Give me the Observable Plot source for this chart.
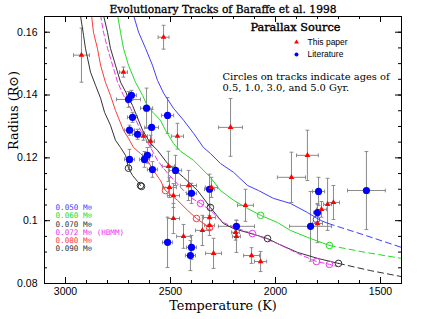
<!DOCTYPE html>
<html><head><meta charset="utf-8">
<script src="https://cdn.jsdelivr.net/npm/d3@7"></script>
<script src="https://cdn.jsdelivr.net/npm/@observablehq/plot@0.6"></script>
<style>body{margin:0;background:#fff}</style>
</head><body><div id="chart"></div>
<script>
// Evolutionary tracks (Teff K, Radius Rsun)
const track090 = [[2929,0.1654],[2914,0.1590],[2905,0.1549],[2881,0.1473],[2857,0.1431],[2833,0.1390],[2814,0.1345],[2786,0.1304],[2762,0.1256],[2738,0.1233],[2714,0.1208],[2700,0.1167],[2681,0.1144],[2657,0.1125],[2643,0.1112]];
const track080 = [[2876,0.1654],[2867,0.1600],[2848,0.1549],[2833,0.1495],[2810,0.1441],[2786,0.1399],[2762,0.1351],[2724,0.1288],[2700,0.1262],[2676,0.1233],[2643,0.1214],[2610,0.1192],[2581,0.1160],[2548,0.1128],[2524,0.1096],[2467,0.1065],[2419,0.1033],[2376,0.1007],[2343,0.0991],[2314,0.0978]];
const track072 = [[2833,0.1654],[2819,0.1600],[2800,0.1549],[2776,0.1495],[2752,0.1441],[2724,0.1399],[2690,0.1358],[2643,0.1288],[2595,0.1233],[2562,0.1192],[2514,0.1151],[2452,0.1106],[2405,0.1074],[2357,0.1055],[2310,0.1033],[2248,0.0994],[2181,0.0975],[2110,0.0959],[1990,0.0927],[1895,0.0896],[1805,0.0870],[1743,0.0861],[1705,0.0854]];
const track070 = [[2819,0.1654],[2800,0.1600],[2786,0.1549],[2762,0.1495],[2738,0.1441],[2705,0.1399],[2681,0.1367],[2633,0.1288],[2595,0.1246],[2562,0.1224],[2514,0.1182],[2438,0.1138],[2371,0.1096],[2310,0.1042],[2248,0.0991],[2200,0.0975],[2086,0.0953],[2038,0.0943],[1990,0.0927],[1895,0.0899],[1800,0.0880],[1700,0.0864]];
const track070ext = [[1700,0.0864],[1548,0.0841],[1400,0.0822]];
const track060 = [[2752,0.1654],[2738,0.1600],[2724,0.1549],[2700,0.1495],[2667,0.1441],[2633,0.1399],[2610,0.1365],[2580,0.1342],[2548,0.1320],[2524,0.1288],[2486,0.1246],[2452,0.1221],[2390,0.1192],[2310,0.1138],[2262,0.1096],[2200,0.1065],[2133,0.1039],[2071,0.1017],[1990,0.0994],[1929,0.0969],[1848,0.0947],[1743,0.0921]];
const track060ext = [[1743,0.0921],[1571,0.0899],[1400,0.0880]];
const track050 = [[2676,0.1654],[2652,0.1600],[2619,0.1549],[2586,0.1495],[2562,0.1447],[2533,0.1406],[2486,0.1358],[2438,0.1320],[2390,0.1278],[2343,0.1233],[2310,0.1214],[2262,0.1182],[2200,0.1154],[2133,0.1112],[2081,0.1096],[2010,0.1071],[1929,0.1055],[1848,0.1026],[1786,0.1001],[1748,0.0991]];
const track050ext = [[1748,0.0991],[1571,0.0953],[1400,0.0915]];

// Age circles (0.5, 1.0, 3.0, 5.0 Gyr) on each track
const ages090 = [[2700,0.1167],[2643,0.1112],[2638,0.1109]];
const ages080 = [[2524,0.1096],[2376,0.1007],[2314,0.0978]];
const ages072 = [[2357,0.1055],[2110,0.0959],[1805,0.0870],[1743,0.0861]];
const ages070 = [[2310,0.1042],[2038,0.0943],[1700,0.0864]];
const ages060 = [[2071,0.1017],[1743,0.0921]];
const ages050 = [[1805,0.1004]];

// Objects: [Teff, R, Teff error, R error]
const thisPaper = [[2924,0.1527,38,0.0086],[2533,0.1584,26,0.0038],[2724,0.1473,19,0.0016],[2467,0.1269,29,0.0041],[2629,0.1269,19,0.0013],[2595,0.1253,19,0.0019],[2510,0.1173,29,0.0048],[2414,0.1112,38,0.0048],[2505,0.1106,33,0.0032],[2486,0.1080,29,0.0038],[2305,0.1106,29,0.0032],[2486,0.1007,29,0.0048],[2314,0.1010,29,0.0038],[2314,0.0985,24,0.0032],[2348,0.0969,33,0.0048],[2438,0.0950,33,0.0038],[2295,0.0896,38,0.0048],[2214,0.1297,57,0.0092],[2143,0.1049,38,0.0051],[2190,0.0963,19,0.0025],[2186,0.0950,19,0.0051],[2114,0.0889,38,0.0025],[2071,0.0870,29,0.0032],[1848,0.1208,52,0.0080],[1924,0.1138,67,0.0080],[1724,0.1058,29,0.0054],[1752,0.1052,19,0.0083],[1781,0.1036,24,0.0025],[1800,0.0991,24,0.0061]];
const literature = [[2686,0.1399,24,0.0016],[2700,0.1386,57,0.0025],[2614,0.1358,29,0.0064],[2514,0.1335,29,0.0057],[2681,0.1329,24,0.0016],[2695,0.1288,24,0.0016],[2590,0.1297,33,0.0057],[2657,0.1275,24,0.0016],[2695,0.1195,24,0.0032],[2610,0.1208,24,0.0025],[2624,0.1195,24,0.0025],[2586,0.1163,24,0.0025],[2476,0.1160,29,0.0048],[2400,0.1087,24,0.0032],[2314,0.1100,24,0.0048],[2514,0.0931,24,0.0080],[2400,0.0915,24,0.0038],[2405,0.0889,24,0.0048],[2186,0.0982,86,0.0020],[1795,0.1093,29,0.0045],[1567,0.1096,90,0.0124],[1800,0.1026,19,0.0029],[1833,0.0982,100,0.0111]];

const xTickLabels = [3000,2500,2000,1500];
const yTickLabels = [0.08,0.10,0.12,0.14,0.16];
const massLabels = ["0.050 M\u2299","0.060 M\u2299","0.070 M\u2299","0.072 M\u2299 (HBMM)","0.080 M\u2299","0.090 M\u2299"];
const massColors = ["#3f3fff","#22dd22","#333333","#ee33ee","#ff3b3b","#333333"];

const serif = "DejaVu Serif, Liberation Serif, serif";
const sans = "Liberation Sans, Arial, sans-serif";
const W = 427, H = 319, mL = 44, mR = 26, mT = 16, mB = 36;
const fw = W - mL - mR, fh = H - mT - mB;
const xMinor = d3.range(1400, 3101, 100);
const yMinor = d3.range(0.08, 0.1651, 0.005).map(v => +v.toFixed(3));
const errCol = "#8a8a8a";

function errMarks(pts) {
  const capT = 9, capR = 0.0006;
  return [
    Plot.link(pts, {x1: d => d[0] - d[2], x2: d => d[0] + d[2], y1: d => d[1], y2: d => d[1], stroke: errCol, strokeWidth: 1}),
    Plot.link(pts, {x1: d => d[0], x2: d => d[0], y1: d => d[1] - d[3], y2: d => d[1] + d[3], stroke: errCol, strokeWidth: 1}),
    Plot.link(pts, {x1: d => d[0] - capT, x2: d => d[0] + capT, y1: d => d[1] + d[3], y2: d => d[1] + d[3], stroke: errCol}),
    Plot.link(pts, {x1: d => d[0] - capT, x2: d => d[0] + capT, y1: d => d[1] - d[3], y2: d => d[1] - d[3], stroke: errCol}),
    Plot.link(pts, {x1: d => d[0] - d[2], x2: d => d[0] - d[2], y1: d => d[1] - capR, y2: d => d[1] + capR, stroke: errCol}),
    Plot.link(pts, {x1: d => d[0] + d[2], x2: d => d[0] + d[2], y1: d => d[1] - capR, y2: d => d[1] + capR, stroke: errCol})
  ];
}
const line = (data, color, dash) => Plot.line(data, {x: d => d[0], y: d => d[1], stroke: color, strokeWidth: 1, strokeDasharray: dash, clip: true, curve: "linear"});
const ageDots = (data, color) => Plot.dot(data, {x: d => d[0], y: d => d[1], r: 3.3, stroke: color, strokeWidth: 1, fill: "none"});
const label = (t, o) => Plot.text([t], {lineAnchor: "middle", fill: "black", ...o});

const chart = Plot.plot({
  width: W, height: H,
  marginLeft: mL, marginRight: mR, marginTop: mT, marginBottom: mB,
  style: {fontFamily: sans, fontSize: "10.5px", background: "white", color: "black", overflow: "visible"},
  x: {domain: [3100, 1400], ticks: xTickLabels, tickFormat: d => String(d), tickSize: 0, tickPadding: 4, label: null},
  y: {domain: [0.08, 0.165], ticks: yTickLabels, tickFormat: d => String(+d.toFixed(2)), tickSize: 0, tickPadding: 7, label: null},
  marks: [
    ...errMarks(thisPaper),
    ...errMarks(literature),
    line(track050, massColors[0]),
    line(track050ext, massColors[0], "6,4"),
    line(track060, massColors[1]),
    line(track060ext, massColors[1], "6,4"),
    line(track070, massColors[2]),
    line(track070ext, massColors[2], "6,4"),
    line(track072, massColors[3], "5,3"),
    line(track080, massColors[4]),
    line(track090, massColors[5]),
    ageDots(ages050, massColors[0]),
    ageDots(ages060, massColors[1]),
    ageDots(ages070, massColors[2]),
    ageDots(ages072, massColors[3]),
    ageDots(ages080, massColors[4]),
    ageDots(ages090, massColors[5]),
    Plot.dot(literature, {x: d => d[0], y: d => d[1], r: 3.6, fill: "#0000ff", stroke: "none"}),
    Plot.dot(thisPaper, {x: d => d[0], y: d => d[1], r: 2.1, symbol: "triangle", fill: "#ff0000", stroke: "none"}),
    // ticks on all four sides
    Plot.ruleX(xTickLabels, {x: d => d, insetTop: fh - 6, stroke: "black"}),
    Plot.ruleX(xMinor, {x: d => d, insetTop: fh - 3, stroke: "black"}),
    Plot.ruleX(xTickLabels, {x: d => d, insetBottom: fh - 6, stroke: "black"}),
    Plot.ruleX(xMinor, {x: d => d, insetBottom: fh - 3, stroke: "black"}),
    Plot.ruleY(yTickLabels, {y: d => d, insetRight: fw - 6, stroke: "black"}),
    Plot.ruleY(yMinor, {y: d => d, insetRight: fw - 3, stroke: "black"}),
    Plot.ruleY(yTickLabels, {y: d => d, insetLeft: fw - 6, stroke: "black"}),
    Plot.ruleY(yMinor, {y: d => d, insetLeft: fw - 3, stroke: "black"}),
    Plot.frame({stroke: "black", strokeWidth: 1}),
    // titles
    label("Evolutionary Tracks of Baraffe et al. 1998", {frameAnchor: "top", dy: -7, fontFamily: serif, fontSize: 10.7, stroke: "black", strokeWidth: 0.3}),
    label("Temperature (K)", {frameAnchor: "bottom", dy: 22, fontFamily: serif, fontSize: 12.8}),
    label("Radius (R\u2299)", {frameAnchor: "left", dx: -31, rotate: -90, fontFamily: serif, fontSize: 12.8}),
    // legend
    label("Parallax Source", {frameAnchor: "top-right", dx: -61, dy: 11, fontFamily: serif, fontSize: 11.3, stroke: "black", strokeWidth: 0.4}),
    Plot.dot([0], {frameAnchor: "top-right", dx: -105, dy: 25.7, r: 1.8, symbol: "triangle", fill: "#ff0000"}),
    label("This paper", {frameAnchor: "top-right", dx: -94, dy: 25.7, textAnchor: "start", fontSize: 8.5}),
    Plot.dot([0], {frameAnchor: "top-right", dx: -105, dy: 38, r: 2, fill: "#0000ff"}),
    label("Literature", {frameAnchor: "top-right", dx: -94, dy: 38, textAnchor: "start", fontSize: 8.5}),
    label("Circles on tracks indicate ages of", {frameAnchor: "top-left", dx: 178, dy: 60, textAnchor: "start", fontFamily: serif, fontSize: 9.9}),
    label("0.5, 1.0, 3.0, and 5.0 Gyr.", {frameAnchor: "top-left", dx: 178, dy: 71.5, textAnchor: "start", fontFamily: serif, fontSize: 9.9}),
    ...massLabels.map((t, i) => label(t, {frameAnchor: "top-left", dx: 11, dy: 191 + i * 8.3, textAnchor: "start", fontFamily: "DejaVu Sans Mono, Liberation Mono, monospace", fontSize: 7.6, fill: massColors[i]}))
  ]
});
document.getElementById("chart").appendChild(chart);
</script>
</body></html>
